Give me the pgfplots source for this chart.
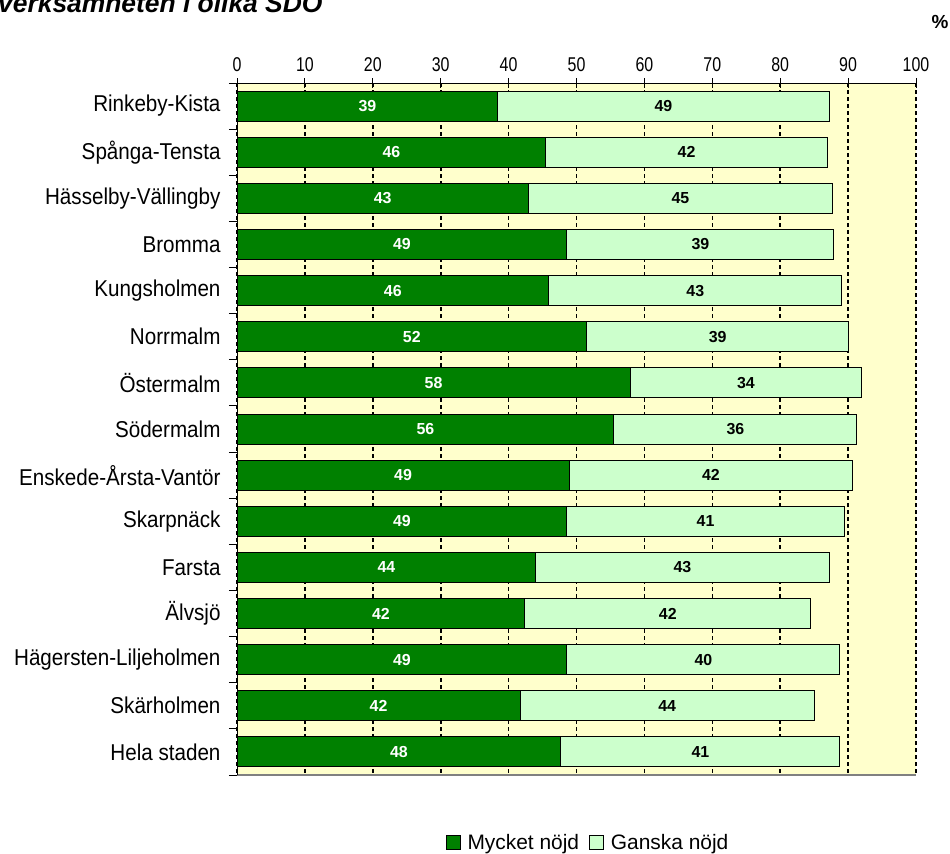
\documentclass[border=0pt]{standalone}
\usepackage{fontspec}
\setmainfont{Liberation Sans}
\newfontfamily\catfont{Liberation Sans}[FakeStretch=0.9]
\newfontfamily\narrowfont{Liberation Sans}[FakeStretch=0.8]
\usepackage{pgfplots}
\usepackage{pgfplotstable}
\pgfplotsset{compat=1.18}

\definecolor{darkgreen}{HTML}{008000}
\definecolor{lightgreen}{HTML}{CCFFCC}
\definecolor{bgyellow}{HTML}{FFFFCC}

% idx, Mycket nojd, Ganska nojd, printed labels
\pgfplotstableread{
idx a b la lb
0 38.4 48.8 39 49
1 45.5 41.4 46 42
2 42.9 44.8 43 45
3 48.6 39.3 49 39
4 45.9 43.2 46 43
5 51.5 38.6 52 39
6 57.9 34.1 58 34
7 55.5 35.8 56 36
8 48.9 41.8 49 42
9 48.6 40.8 49 41
10 44.0 43.2 44 43
11 42.4 42.1 42 42
12 48.6 40.2 49 40
13 41.7 43.3 42 44
14 47.7 41.1 48 41
}\datatable

\begin{document}
\begin{tikzpicture}
\begin{axis}[
    at={(237bp,79bp)}, anchor=south west,
    scale only axis,
    width=679bp, height=692bp,
    xmin=0, xmax=100,
    ymin=-0.5, ymax=14.5,
    y dir=reverse,
    axis background/.style={fill=bgyellow},
    axis line style={draw=none},
    xtick={0,10,...,100},
    xtick pos=top, xticklabel pos=top,
    tick align=center,
    major tick length=10bp,
    x tick style={black, line width=1bp},
    xticklabel style={font=\narrowfont\fontsize{20}{20}\selectfont, yshift=3bp},
    /pgf/number format/assume math mode=true,
    xmajorgrids,
    major grid style={black, line width=1.6bp, dash pattern=on 3.5bp off 3.5bp},
    ytick={0,...,14},
    ytick pos=left,
    y tick style={draw=none},
    yticklabels={Rinkeby-Kista,Spånga-Tensta,Hässelby-Vällingby,Bromma,Kungsholmen,Norrmalm,Östermalm,Södermalm,Enskede-Årsta-Vantör,Skarpnäck,Farsta,Älvsjö,Hägersten-Liljeholmen,Skärholmen,Hela staden},
    yticklabel style={font=\catfont\fontsize{23}{24}\selectfont, xshift=-8bp},
    extra y ticks={-0.5,0.5,...,14.5},
    extra y tick labels={},
    extra y tick style={tick align=outside, major tick length=8bp, y tick style={draw=black, line width=1bp}, grid=none},
    legend style={at={(axis description cs:0.517,-0.098)}, anchor=center, draw=none, fill=none,
        font=\fontsize{21}{22}\selectfont, legend columns=2,
        /tikz/every odd column/.append style={column sep=5bp},
        /tikz/every even column/.append style={column sep=8bp}},
    legend cell align=left,
    clip=false,
]
\addlegendimage{legend image code/.code={\draw[fill=darkgreen, draw=black, line width=0.8bp] (0bp,-7bp) rectangle (14bp,7bp);}}
\addlegendentry{Mycket nöjd}
\addlegendimage{legend image code/.code={\draw[fill=lightgreen, draw=black, line width=0.8bp] (0bp,-7bp) rectangle (14bp,7bp);}}
\addlegendentry{Ganska nöjd}

\addplot[forget plot, xbar, bar width=30bp, bar shift=0pt, fill=lightgreen, draw=black, line width=1bp]
    table[x expr=\thisrow{a}+\thisrow{b}, y=idx] {\datatable};
\addplot[forget plot, xbar, bar width=30bp, bar shift=0pt, fill=darkgreen, draw=black, line width=1bp]
    table[x=a, y=idx] {\datatable};

\addplot[forget plot, draw=none, mark=none, nodes near coords, point meta=explicit symbolic,
    nodes near coords style={anchor=center, text=white, font=\bfseries\fontsize{16}{16}\selectfont}]
    table[x expr=\thisrow{a}/2, y=idx, meta=la] {\datatable};
\addplot[forget plot, draw=none, mark=none, nodes near coords, point meta=explicit symbolic,
    nodes near coords style={anchor=center, text=black, font=\bfseries\fontsize{16}{16}\selectfont}]
    table[x expr=\thisrow{a}+\thisrow{b}/2, y=idx, meta=lb] {\datatable};

\draw[gray, line width=1.5bp] (axis description cs:0,0) -- (axis description cs:1,0);
\draw[black, line width=1bp] (axis description cs:0,0) -- (axis description cs:0,1) -- (axis description cs:1,1);
\end{axis}
\node[anchor=base west, font=\bfseries\itshape\fontsize{26.5}{27}\selectfont, inner sep=0pt] at (-2bp,841.5bp) {verksamheten i olika SDO};
\node[font=\bfseries\fontsize{19}{19}\selectfont, inner sep=0pt] at (940bp,832bp) {\%};
\pgfresetboundingbox
\useasboundingbox (0,0) rectangle (950bp,854bp);
\end{tikzpicture}
\end{document}
